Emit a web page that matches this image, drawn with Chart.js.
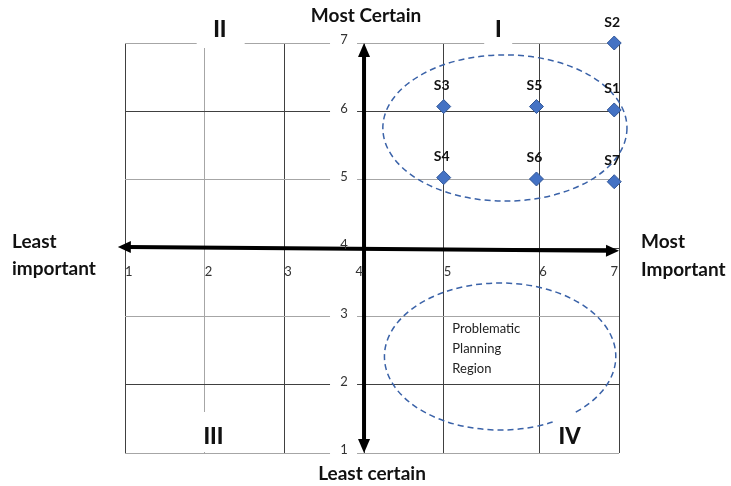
<!DOCTYPE html>
<html>
<head>
<meta charset="utf-8">
<script src="https://cdn.jsdelivr.net/npm/chart.js@4"></script>
<style>
  body { margin: 0; background: #fff; }
  #wrap { width: 731px; height: 486px; position: relative; }
</style>
</head>
<body>
<div id="wrap"><canvas id="matrix"></canvas></div>
<script>
// Importance / certainty planning matrix

// ---- data ----
const X_TICKS = [1, 2, 3, 4, 5, 6, 7];
const Y_TICKS = [1, 2, 3, 4, 5, 6, 7];
const POINT_NAMES = ['S1', 'S2', 'S3', 'S4', 'S5', 'S6', 'S7'];
const IMPORTANCE = [6.94, 6.94, 5, 5, 5.97, 5.97, 6.94];
const CERTAINTY = [6.02, 7, 6.07, 5.03, 6.07, 5.01, 4.97];

// the printed matrix has one wider column (between 5 and 6)
const COLUMN_WIDTHS = [1, 1, 1, 1, 1.2, 1];

// grid line shade per tick (d = dark, g = grey)
const X_GRID_SHADE = ['d', 'g', 'd', 'd', 'd', 'd', 'd'];
const Y_GRID_SHADE = ['g', 'd', 'g', 'd', 'g', 'd', 'g'];

// regions drawn as dashed ellipses (data units, rx/ry measured to right/top edge)
const CERTAIN_REGION = { x: 5.64, y: 5.756, rx: 1.46, ry: 1.07 };
const PROBLEM_REGION = { x: 5.59, y: 2.412, rx: 1.37, ry: 1.076 };
const PROBLEM_TEXT = ['Problematic', 'Planning', 'Region'];

const QUADRANTS = [
  { text: 'II', x: 2.19, y: 7.19 },
  { text: 'I', x: 5.57, y: 7.19 },
  { text: 'III', x: 2.11, y: 1.23 },
  { text: 'IV', x: 6.38, y: 1.23 }
];

const DARK = '#404040';
const GREY = '#a6a6a6';
const BLUE = '#4472c4';
const DASH_BLUE = '#3a62a8';
const FONT = 'Lato, "Open Sans", sans-serif';

// ---- linear scale with uneven column widths ----
const COL_CUM = COLUMN_WIDTHS.reduce((acc, w) => { acc.push(acc[acc.length - 1] + w); return acc; }, [0]);
const COL_TOTAL = COL_CUM[COL_CUM.length - 1];

class SteppedScale extends Chart.LinearScale {
  getPixelForValue(value) {
    const t = value - this.min;
    const i = Math.max(0, Math.min(COLUMN_WIDTHS.length - 1, Math.floor(t)));
    const u = COL_CUM[i] + (t - i) * COLUMN_WIDTHS[i];
    return this.getPixelForDecimal(u / COL_TOTAL);
  }
  getValueForPixel(pixel) {
    const u = this.getDecimalForPixel(pixel) * COL_TOTAL;
    let i = 0;
    while (i < COLUMN_WIDTHS.length - 1 && u > COL_CUM[i + 1]) i++;
    return this.min + i + (u - COL_CUM[i]) / COLUMN_WIDTHS[i];
  }
}
SteppedScale.id = 'stepped';
SteppedScale.defaults = Chart.LinearScale.defaults;
Chart.register(SteppedScale);

// ---- drawing helpers ----
function arrowHead(ctx, x1, y1, x2, y2, len, half) {
  const a = Math.atan2(y2 - y1, x2 - x1);
  ctx.beginPath();
  ctx.moveTo(x2, y2);
  ctx.lineTo(x2 - len * Math.cos(a) + half * Math.sin(a), y2 - len * Math.sin(a) - half * Math.cos(a));
  ctx.lineTo(x2 - len * Math.cos(a) - half * Math.sin(a), y2 - len * Math.sin(a) + half * Math.cos(a));
  ctx.closePath();
  ctx.fill();
}

function dashedEllipse(ctx, xs, ys, r, start, end) {
  const cx = xs.getPixelForValue(r.x);
  const cy = ys.getPixelForValue(r.y);
  const rx = xs.getPixelForValue(r.x + r.rx) - cx;
  const ry = cy - ys.getPixelForValue(r.y + r.ry);
  ctx.save();
  ctx.strokeStyle = DASH_BLUE;
  ctx.lineWidth = 1.5;
  ctx.setLineDash([6, 4]);
  ctx.beginPath();
  ctx.ellipse(cx, cy, rx, ry, 0, start, end);
  ctx.stroke();
  ctx.restore();
}

const matrixDecor = {
  id: 'matrixDecor',
  beforeDatasetsDraw(chart) {
    const { ctx, chartArea: area } = chart;
    const xs = chart.scales.x, ys = chart.scales.y;
    const midX = xs.getPixelForValue(4);
    const midY = ys.getPixelForValue(4);

    ctx.save();
    ctx.fillStyle = '#fff';
    // gaps in the frame for quadrant labels
    ctx.fillRect(xs.getPixelForValue(2) - 8, area.top - 4, 48, 9);
    ctx.fillRect(xs.getPixelForValue(5.57) - 14, area.top - 4, 28, 8);
    ctx.fillRect(xs.getPixelForValue(2) - 3, ys.getPixelForValue(1.6), 6, area.bottom - ys.getPixelForValue(1.6) - 1);
    // gaps for the y tick labels
    Y_TICKS.forEach(v => {
      const y = ys.getPixelForValue(v);
      ctx.fillRect(midX - 34, y - 3, 27, 6);
    });

    // dashed regions
    dashedEllipse(ctx, xs, ys, CERTAIN_REGION, 0, Math.PI * 2);
    dashedEllipse(ctx, xs, ys, PROBLEM_REGION, 63 * Math.PI / 180, (360 + 50) * Math.PI / 180);

    // thick axes
    ctx.strokeStyle = '#000';
    ctx.fillStyle = '#000';
    ctx.lineWidth = 4;
    const hx1 = xs.getPixelForValue(0.91), hy1 = ys.getPixelForValue(4.015);
    const hx2 = xs.getPixelForValue(7), hy2 = ys.getPixelForValue(3.96);
    ctx.beginPath();
    ctx.moveTo(hx1 + 10, hy1 + (hy2 - hy1) * 10 / (hx2 - hx1));
    ctx.lineTo(hx2 - 10, hy2 - (hy2 - hy1) * 10 / (hx2 - hx1));
    ctx.stroke();
    arrowHead(ctx, hx2, hy2, hx1, hy1, 13, 6);
    arrowHead(ctx, hx1, hy1, hx2, hy2, 13, 6);
    const vy1 = ys.getPixelForValue(7), vy2 = ys.getPixelForValue(1);
    ctx.beginPath();
    ctx.moveTo(midX, vy1 + 10);
    ctx.lineTo(midX, vy2 - 10);
    ctx.stroke();
    arrowHead(ctx, midX, vy2, midX, vy1, 14, 6);
    arrowHead(ctx, midX, vy1, midX, vy2, 14, 6);

    // tick labels
    ctx.fillStyle = '#333';
    ctx.font = '13px ' + FONT;
    ctx.textBaseline = 'middle';
    ctx.textAlign = 'center';
    Y_TICKS.forEach(v => {
      ctx.fillText(String(v), midX - 20, ys.getPixelForValue(v) - 3);
    });
    X_TICKS.forEach(v => {
      const px = xs.getPixelForValue(v);
      if (v === 4 || v === 7) {
        ctx.textAlign = 'right';
        ctx.fillText(String(v), px - 1, midY + 24);
      } else {
        ctx.textAlign = 'left';
        ctx.fillText(String(v), px, midY + 24);
      }
    });

    // region caption
    ctx.textAlign = 'left';
    ctx.fillStyle = '#222';
    ctx.font = '13px ' + FONT;
    const capX = xs.getPixelForValue(5.09);
    PROBLEM_TEXT.forEach((t, i) => {
      ctx.fillText(t, capX, ys.getPixelForValue(3) + 12 + i * 20);
    });

    // quadrant numerals
    ctx.fillStyle = '#111';
    ctx.textAlign = 'center';
    ctx.font = '900 22px ' + FONT;
    QUADRANTS.forEach(q => {
      ctx.fillText(q.text, xs.getPixelForValue(q.x), ys.getPixelForValue(q.y));
    });

    // axis titles
    ctx.font = 'bold 19px ' + FONT;
    ctx.fillText('Most Certain', midX + 2, area.top - 27);
    ctx.fillText('Least certain', midX + 8, area.bottom + 21);
    ctx.textAlign = 'left';
    ctx.fillText('Least', 12, midY - 6);
    ctx.fillText('important', 12, midY + 21);
    ctx.fillText('Most', area.right + 22, midY - 6);
    ctx.fillText('Important', area.right + 22, midY + 22);
    ctx.restore();
  },
  afterDatasetsDraw(chart) {
    const { ctx } = chart;
    const meta = chart.getDatasetMeta(0);
    ctx.save();
    ctx.fillStyle = '#111';
    ctx.font = 'bold 14px ' + FONT;
    ctx.textAlign = 'center';
    ctx.textBaseline = 'middle';
    meta.data.forEach((pt, i) => {
      ctx.fillText(POINT_NAMES[i], pt.x - 2, pt.y - 21);
    });
    ctx.restore();
  }
};

function gridColor(shades) {
  return c => (shades[c.index] === 'd' ? DARK : GREY);
}

new Chart(document.getElementById('matrix'), {
  type: 'scatter',
  data: {
    datasets: [{
      data: IMPORTANCE.map((x, i) => ({ x: x, y: CERTAINTY[i] })),
      pointStyle: 'rectRot',
      pointRadius: 7,
      pointBackgroundColor: BLUE,
      pointBorderColor: '#2f5597',
      pointBorderWidth: 1,
      clip: false
    }]
  },
  options: {
    responsive: true,
    maintainAspectRatio: false,
    animation: false,
    layout: { padding: { left: 125, right: 112, top: 43, bottom: 33 } },
    plugins: { legend: { display: false }, tooltip: { enabled: false } },
    scales: {
      x: {
        type: 'stepped',
        min: 1, max: 7,
        afterBuildTicks: s => { s.ticks = X_TICKS.map(v => ({ value: v })); },
        afterFit: s => { s.height = 0; },
        ticks: { display: false },
        border: { display: false },
        grid: { drawTicks: false, color: gridColor(X_GRID_SHADE), lineWidth: 1 }
      },
      y: {
        type: 'linear',
        min: 1, max: 7,
        afterBuildTicks: s => { s.ticks = Y_TICKS.map(v => ({ value: v })); },
        afterFit: s => { s.width = 0; },
        ticks: { display: false },
        border: { display: false },
        grid: { drawTicks: false, color: gridColor(Y_GRID_SHADE), lineWidth: 1 }
      }
    }
  },
  plugins: [matrixDecor]
});
</script>
</body>
</html>
